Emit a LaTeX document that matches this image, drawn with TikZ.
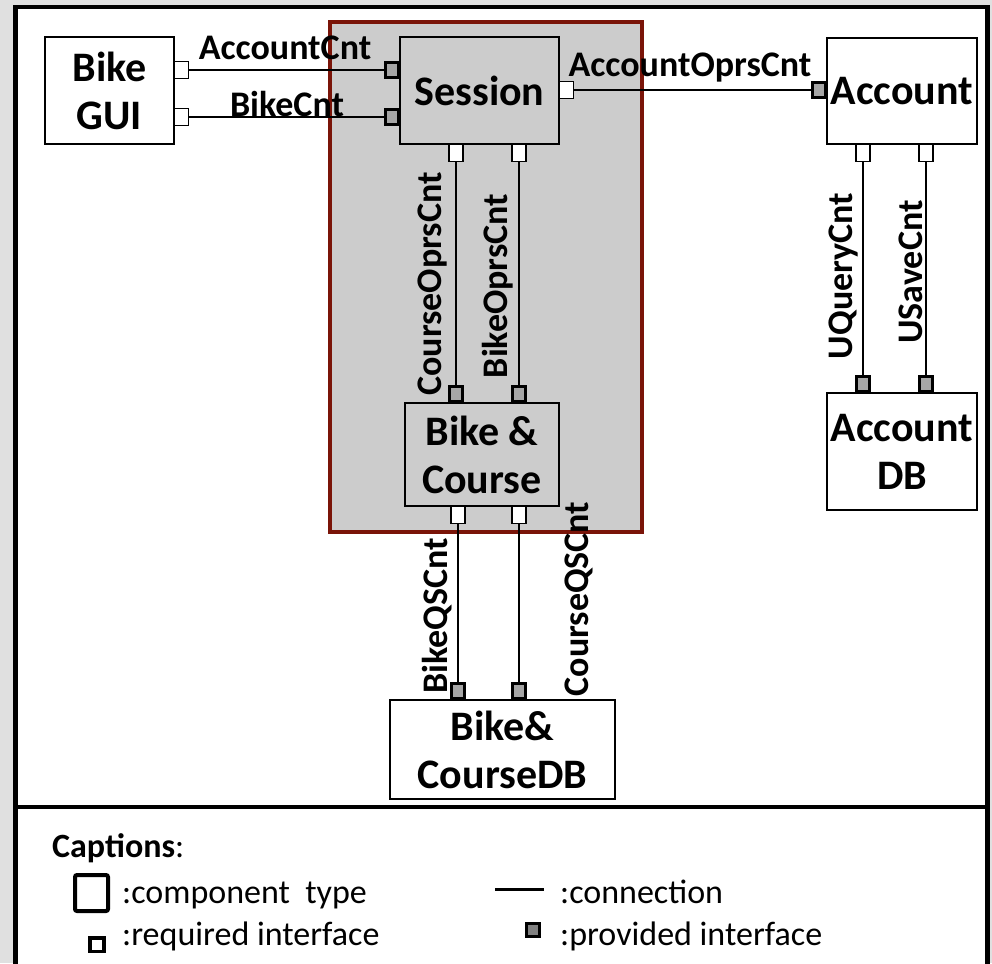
\documentclass[tikz,border=0pt]{standalone}
\usepackage{fontspec}
\setmainfont{Carlito}
\usetikzlibrary{shadows}
\definecolor{framered}{RGB}{122,20,8}
\definecolor{paneGray}{RGB}{204,204,204}
\definecolor{provGray}{RGB}{166,166,166}
\definecolor{legGray}{RGB}{128,128,128}
\definecolor{pageGray}{RGB}{224,224,224}

\begin{document}
\begin{tikzpicture}[x=1pt,y=-1pt,
  comp/.style={draw=black, line width=1.6pt, inner sep=0pt, align=center,
    font=\fontsize{42}{48}\selectfont\bfseries},
  reqport/.style={draw=black, line width=1.4pt, fill=white,
    minimum width=14pt, minimum height=17pt, inner sep=0pt},
  provport/.style={draw=black, line width=2.6pt, fill=provGray,
    minimum width=13pt, minimum height=15pt, inner sep=0pt,
    drop shadow={shadow xshift=1pt, shadow yshift=-1pt, opacity=0.25}},
  conn/.style={draw=black, line width=1.5pt},
  lbl/.style={font=\fontsize{36}{40}\selectfont\bfseries, inner sep=0pt},
  vlbl/.style={lbl, rotate=90, anchor=base},
  legtxt/.style={font=\fontsize{34}{40}\selectfont, inner sep=0pt, anchor=base west},
]
\useasboundingbox (0,0) rectangle (992,963);

% page background and outer frame
\fill[pageGray] (0,0) rectangle (992,963);
\fill[white] (15.5,7) rectangle (987.5,975);
\draw[line width=4.5pt] (15.5,975) -- (15.5,7) -- (987.5,7) -- (987.5,975);
\draw[line width=4.5pt] (15.5,807) -- (987.5,807);

% composite holding Session and Bike & Course
\node[draw=framered, line width=3.5pt, fill=paneGray, inner sep=0pt,
      minimum width=312pt, minimum height=510pt] (pane) at (486,277) {};

% components
\node[comp, minimum width=129pt, minimum height=107pt] (gui) at (109.5,90.5) {Bike\\GUI};
\node[comp, minimum width=159pt, minimum height=107pt] (session) at (479.5,90.5) {Session};
\node[comp, minimum width=150pt, minimum height=106pt] (account) at (902,91) {Account};
\node[comp, minimum width=150pt, minimum height=117pt] (accdb) at (902,451.5) {Account\\DB};
\node[comp, minimum width=154pt, minimum height=103pt] (bc) at (482,454.5) {Bike \&\\Course};
\node[comp, minimum width=225pt, minimum height=99pt, fill=white] (bcdb) at (502.5,749.5) {Bike\&\\CourseDB};

% interfaces
\node[reqport, anchor=west] (guiA) at (174,70) {};
\node[reqport, anchor=west] (guiB) at (174,117) {};
\node[provport, anchor=east] (sesA) at (400,70) {};
\node[provport, anchor=east] (sesB) at (400,117) {};
\node[reqport, anchor=west] (sesR) at (559,90) {};
\node[reqport, anchor=north] (sesD1) at (456,144) {};
\node[reqport, anchor=north] (sesD2) at (519,144) {};
\node[provport, anchor=east] (accL) at (827,90) {};
\node[reqport, anchor=north] (accD1) at (863,144) {};
\node[reqport, anchor=north] (accD2) at (926,144) {};
\node[provport, anchor=south] (adbU1) at (863,393) {};
\node[provport, anchor=south] (adbU2) at (926,393) {};
\node[provport, anchor=south] (bcU1) at (456,403) {};
\node[provport, anchor=south] (bcU2) at (519,403) {};
\node[reqport, anchor=north] (bcD1) at (458,506) {};
\node[reqport, anchor=north] (bcD2) at (519,506) {};
\node[provport, anchor=south] (dbU1) at (458,700) {};
\node[provport, anchor=south] (dbU2) at (519,700) {};

% connections
\draw[conn] (guiA) -- (sesA);
\draw[conn] (guiB) -- (sesB);
\draw[conn] (sesR) -- (accL);
\draw[conn] (sesD1) -- (bcU1);
\draw[conn] (sesD2) -- (bcU2);
\draw[conn] (accD1) -- (adbU1);
\draw[conn] (accD2) -- (adbU2);
\draw[conn] (bcD1) -- (dbU1);
\draw[conn] (bcD2) -- (dbU2);

% connection names
\node[lbl, anchor=base] (lAccCnt) at (285,60) {AccountCnt};
\node[lbl, anchor=base] (lBikeCnt) at (287,117) {BikeCnt};
\node[lbl, anchor=base] (lAccOprs) at (690,77) {AccountOprsCnt};
\node[vlbl] (lCourseOprs) at (441,284) {CourseOprsCnt};
\node[vlbl] (lBikeOprs) at (507,286) {BikeOprsCnt};
\node[vlbl] (lUQuery) at (852,276) {UQueryCnt};
\node[vlbl] (lUSave) at (922,272) {USaveCnt};
\node[vlbl] (lBikeQS) at (447,616) {BikeQSCnt};
\node[vlbl] (lCourseQS) at (588,599) {CourseQSCnt};

% legend
\node[legtxt] (captions) at (52,857) {\textbf{Captions}:};
\node[draw, line width=4pt, rounded corners=2pt, inner sep=0pt,
      minimum width=33pt, minimum height=36pt] (legComp) at (91.5,893) {};
\node[legtxt] (legCompT) at (122,903) {:component\ \ type};
\node[draw, line width=3.5pt, fill=white, inner sep=0pt,
      minimum width=14pt, minimum height=13.5pt] (legReq) at (97,944.5) {};
\node[legtxt] (legReqT) at (122,945) {:required interface};
\coordinate (legConnA) at (495,889);
\coordinate (legConnB) at (544,889);
\draw[line width=3pt] (legConnA) -- (legConnB);
\node[legtxt] (legConnT) at (560,903) {:connection};
\node[draw, line width=3pt, fill=legGray, inner sep=0pt,
      minimum width=13pt, minimum height=13pt] (legProv) at (533,930) {};
\node[legtxt] (legProvT) at (560,945) {:provided interface};
\end{tikzpicture}
\end{document}
